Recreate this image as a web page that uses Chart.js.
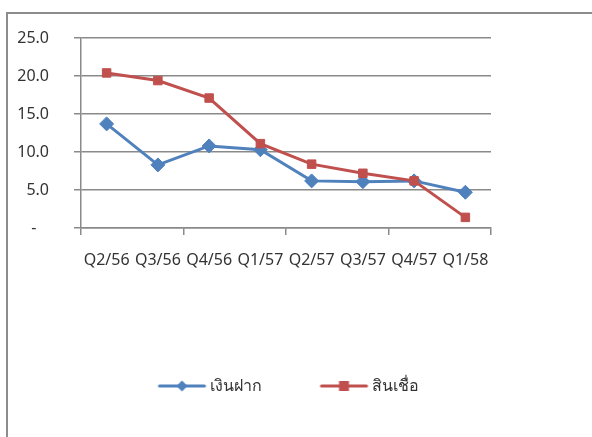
<!DOCTYPE html>
<html>
<head>
<meta charset="utf-8">
<script src="https://cdn.jsdelivr.net/npm/chart.js@4"></script>
<style>
  body { margin: 0; overflow: hidden; background: #fff; }
  #marco { position: absolute; left: 6px; top: 12px; width: 700px; height: 600px;
           border-left: 2px solid #8c8c8c; border-top: 2px solid #8c8c8c; }
  #contenedor { position: absolute; left: 0; top: 0; width: 592px; height: 404px; }
</style>
</head>
<body>
<div id="marco"></div>
<div id="contenedor"><canvas id="grafico"></canvas></div>
<script>
// Datos del grafico
var trimestres = ['Q2/56', 'Q3/56', 'Q4/56', 'Q1/57', 'Q2/57', 'Q3/57', 'Q4/57', 'Q1/58'];
var depositos = [13.7, 8.3, 10.8, 10.3, 6.2, 6.1, 6.2, 4.7];
var creditos = [20.4, 19.4, 17.1, 11.1, 8.4, 7.2, 6.2, 1.4];
var nombres = ['เงินฝาก', 'สินเชื่อ'];

var azul = '#4f81bd';
var rojo = '#c0504d';
var gris = '#8a8a8a';
var fuente = "'Noto Sans', 'DejaVu Sans', sans-serif";

// Icono de leyenda: linea con marcador (dibujado a la derecha del lienzo)
function crearIcono(color, forma) {
    var c = document.createElement('canvas');
    c.width = 60;
    c.height = 14;
    var x = c.getContext('2d');
    x.strokeStyle = color;
    x.fillStyle = color;
    x.lineWidth = 3;
    x.lineCap = 'round';
    x.beginPath();
    x.moveTo(12, 7);
    x.lineTo(57, 7);
    x.stroke();
    x.beginPath();
    if (forma === 'rombo') {
        x.moveTo(34.5, 1.5);
        x.lineTo(40, 7);
        x.lineTo(34.5, 12.5);
        x.lineTo(29, 7);
    } else {
        x.rect(29.5, 2, 10, 10);
    }
    x.fill();
    return c;
}
var iconos = [crearIcono(azul, 'rombo'), crearIcono(rojo, 'cuadro')];

var datos = {
    labels: trimestres,
    datasets: [{
        label: nombres[0],
        data: depositos,
        borderColor: azul,
        backgroundColor: azul,
        borderWidth: 3,
        pointStyle: 'rectRot',
        pointRadius: 7,
        pointBorderWidth: 1,
        order: 1
    }, {
        label: nombres[1],
        data: creditos,
        borderColor: rojo,
        backgroundColor: rojo,
        borderWidth: 3,
        pointStyle: 'rect',
        pointRadius: 6,
        pointBorderWidth: 1,
        order: 0
    }]
};

var opciones = {
    responsive: true,
    maintainAspectRatio: false,
    animation: false,
    layout: { padding: { top: 38, right: 101, left: 0, bottom: 0 } },
    plugins: {
        tooltip: { enabled: false },
        legend: {
            position: 'bottom',
            fullSize: false,
            labels: {
                usePointStyle: true,
                pointStyleWidth: 48,
                padding: 54,
                color: '#333',
                font: { family: fuente, size: 16 },
                sort: function (a, b) { return a.datasetIndex - b.datasetIndex; },
                generateLabels: function (chart) {
                    var items = Chart.defaults.plugins.legend.labels.generateLabels(chart);
                    items.forEach(function (it) { it.pointStyle = iconos[it.datasetIndex]; });
                    return items;
                }
            }
        }
    },
    scales: {
        x: {
            offset: true,
            grid: {
                offset: true,
                drawOnChartArea: false,
                tickLength: 7,
                lineWidth: 1.5,
                color: function (ctx) {
                    return (ctx.index === undefined || ctx.index % 2 === 0) ? gris : 'rgba(0,0,0,0)';
                }
            },
            border: { color: gris, width: 1.5 },
            ticks: {
                autoSkip: false,
                maxRotation: 0,
                padding: 16,
                color: '#333',
                font: { family: fuente, size: 16 }
            },
            afterFit: function (scale) { scale.height = 96; }
        },
        y: {
            min: 0,
            max: 25,
            grid: { color: gris, tickLength: 7, lineWidth: 1.5 },
            border: { color: gris, width: 1.5 },
            ticks: {
                stepSize: 5,
                padding: 25,
                color: '#333',
                font: { family: fuente, size: 16 },
                callback: function (v) { return v === 0 ? '-   ' : v.toFixed(1); }
            },
            afterFit: function (scale) { scale.width = 81; }
        }
    }
};

var ctx = document.getElementById('grafico').getContext('2d');
var grafico = new Chart(ctx, { type: 'line', data: datos, options: opciones });
</script>
</body>
</html>
